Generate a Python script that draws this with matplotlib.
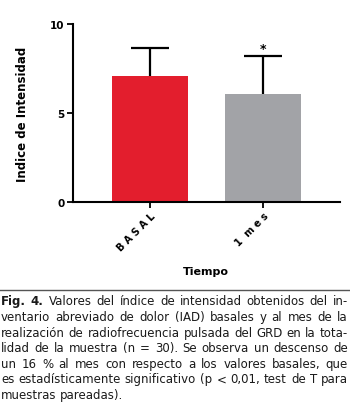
import matplotlib
matplotlib.use("Agg")
import matplotlib.pyplot as plt

categories = ["B A S A L", "1  m e s"]
means = [7.1, 6.05]
sd_upper = [1.55, 2.15]
bar_colors = ["#E31E2D", "#A2A3A7"]
yticks = [0, 5, 10]
ylabel = "Indice de Intensidad"
xlabel = "Tiempo"
caption_lines = [
    "Fig. 4. Valores del índice de intensidad obtenidos del in-",
    "ventario abreviado de dolor (IAD) basales y al mes de la",
    "realización de radiofrecuencia pulsada del GRD en la tota-",
    "lidad de la muestra (n = 30). Se observa un descenso de",
    "un 16 % al mes con respecto a los valores basales, que",
    "es estadísticamente significativo (p < 0,01, test de T para",
    "muestras pareadas).",
]

W, H = 350, 410
fig = plt.figure(figsize=(W / 100, H / 100), dpi=100)
ax = fig.add_axes([73 / W, 1 - 203 / H, 267 / W, 178 / H])

x = list(range(len(categories)))
ax.bar(x, means, width=0.67, color=bar_colors, zorder=2)
eb = ax.errorbar(x, means, yerr=[[0, 0], sd_upper], fmt="none", ecolor="black",
                 elinewidth=1.6, capsize=13.5, capthick=1.6, zorder=3)
eb[1][0].set_visible(False)  # hide lower caps
ax.text(1, means[1] + sd_upper[1] + 0.45, "*", ha="center", va="center",
        fontsize=9, fontweight="bold")

ax.set_xlim(-0.68, 1.68)
ax.set_ylim(0, 10)
ax.set_yticks(yticks)
ax.set_yticklabels([str(v) for v in yticks], fontsize=7.5, fontweight="bold")
ax.set_xticks(x)
ax.set_xticklabels(categories, rotation=45, ha="right", rotation_mode="anchor",
                   fontsize=7, fontweight="bold")
for s in ["top", "right"]:
    ax.spines[s].set_visible(False)
for s in ["left", "bottom"]:
    ax.spines[s].set_linewidth(1.5)
ax.tick_params(axis="both", length=4, width=1.3, pad=2)
ax.set_ylabel(ylabel, fontsize=8.5, fontweight="bold", labelpad=15)
fig.text(206 / W, 1 - 272 / H, xlabel, ha="center", va="center",
         fontsize=8, fontweight="bold")

# rule
fig.add_artist(plt.Line2D([0, 1], [1 - 291 / H, 1 - 291 / H], color="#555555",
                          linewidth=1.0, transform=fig.transFigure))

# justified caption
fs = 8.5
fig.canvas.draw()
r = fig.canvas.get_renderer()

def width(s, bold=False):
    t = fig.text(0, 0, s, fontsize=fs, fontweight="bold" if bold else "normal")
    w = t.get_window_extent(r).width
    t.remove()
    return w

left, right = 1.0, 348.0
base0, step = 305.5, 15.6
for i, line in enumerate(caption_lines):
    words = line.split(" ")
    bolds = [False] * len(words)
    if i == 0:
        bolds[0] = bolds[1] = True
    ws = [width(w, b) for w, b in zip(words, bolds)]
    if i < len(caption_lines) - 1:
        gap = (right - left - sum(ws)) / (len(words) - 1)
    else:
        gap = width("a b") - width("a") - width("b")
    xx = left
    yb = base0 + i * step
    for w, b, ww in zip(words, bolds, ws):
        fig.text(xx / W, 1 - yb / H, w, fontsize=fs, va="baseline", ha="left",
                 fontweight="bold" if b else "normal", color="#1a1a1a")
        xx += ww + gap

fig.savefig("out.png", dpi=100)
